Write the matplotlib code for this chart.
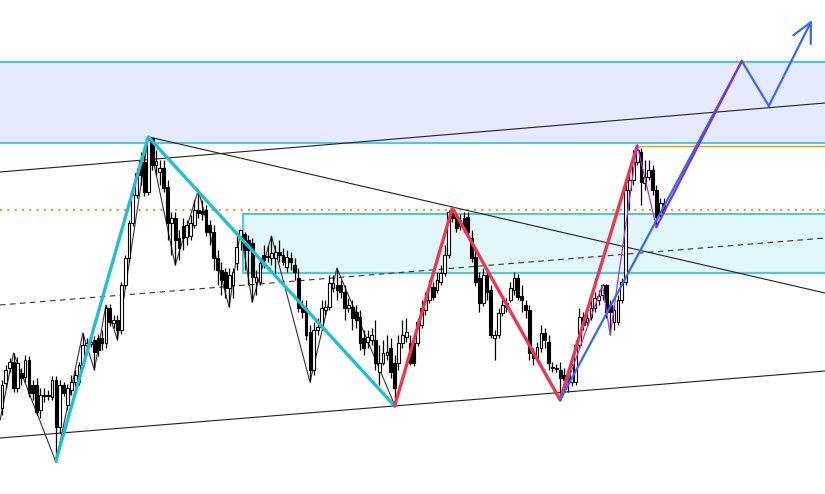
import numpy as np
import matplotlib
matplotlib.use('Agg')
import matplotlib.pyplot as plt

# ---- candles (price in points)
opens = [92, 117, 132, 138, 112, 127, 123, 140, 115, 115,
         90, 105, 104, 103, 120, 73, 115, 95, 110, 118,
         118, 135, 155, 156, 160, 162, 162, 157, 192, 177,
         180, 170, 215, 242, 277, 305, 340, 338, 308, 362,
         335, 328, 332, 313, 277, 282, 262, 274, 263, 264,
         275, 290, 289, 290, 275, 268, 242, 230, 228, 212,
         215, 237, 263, 266, 260, 257, 218, 218, 245, 243,
         242, 242, 248, 245, 233, 242, 235, 222, 193, 192,
         168, 130, 170, 173, 190, 193, 212, 215, 215, 208,
         192, 193, 188, 183, 162, 158, 160, 160, 128, 137,
         145, 152, 137, 137, 157, 163, 157, 157, 157, 175,
         190, 200, 213, 210, 218, 227, 245, 290, 283, 274,
         282, 283, 262, 243, 222, 197, 225, 210, 162, 165,
         187, 197, 200, 210, 222, 204, 195, 190, 147, 142,
         152, 167, 158, 132, 131, 130, 125, 120, 118, 118,
         155, 183, 178, 183, 192, 200, 205, 215, 195, 178,
         178, 200, 218, 310, 320, 338, 348, 317, 323, 330,
         310, 285, 297]
closes = [115, 130, 138, 112, 137, 122, 140, 107, 107, 88,
          105, 104, 104.5, 120, 73, 115, 107, 112, 118, 125,
          135, 155, 157, 158, 148, 150, 157, 192, 178, 180,
          170, 215, 242, 277, 305, 327, 325, 308, 360, 335,
          339, 332, 312, 277, 282, 260, 252, 262, 275, 277,
          290, 287, 286, 268, 268, 242, 230, 220, 212, 225,
          228, 253, 270, 250, 250, 223, 223, 237, 240, 243.5,
          247, 248, 245, 238, 243, 238, 228, 192, 188, 165,
          130, 170, 173, 192, 193, 217, 217, 210, 208, 192,
          195, 182, 180, 157, 152, 163, 165, 137, 137, 147,
          148, 128, 112, 157, 165, 168, 137, 137, 178, 192,
          200, 213, 203, 220, 227, 245, 288, 282, 272, 280,
          273, 268, 242, 218, 197, 225, 208, 165, 165, 187,
          195, 193, 212, 222, 203, 200, 190, 147, 142, 153,
          167, 160, 137, 133, 131.5, 122, 120, 123, 135, 155,
          183, 175, 182, 192, 202, 204, 215, 188, 188, 190,
          200, 218, 310, 320, 338, 350, 318, 323, 330, 310,
          283, 297, 290]
highs = [120, 135, 142, 147, 143, 132, 145, 144, 120, 122,
         112, 112, 110, 124, 124, 120, 118, 116, 125, 130,
         138, 167, 162, 164, 164, 166, 170, 195, 196, 185,
         185, 218, 245, 280, 310, 332, 348, 345, 363, 362,
         350, 340, 340, 320, 288, 288, 270, 282, 280, 285,
         300, 310, 300, 295, 280, 275, 250, 238, 232, 232,
         232, 265, 270, 268, 265, 262, 230, 242, 255, 255,
         264, 255, 260, 252, 250, 248, 242, 232, 200, 200,
         175, 178, 182, 200, 200, 225, 225, 232, 220, 215,
         202, 200, 195, 190, 170, 170, 172, 180, 155, 160,
         165, 162, 145, 165, 180, 182, 165, 160, 182, 200,
         208, 220, 218, 228, 235, 255, 290, 292, 288, 286,
         288, 288, 270, 250, 228, 232, 230, 215, 170, 192,
         200, 202, 218, 228, 226, 215, 200, 195, 152, 158,
         175, 172, 165, 138, 136, 138, 132, 128, 140, 160,
         192, 188, 190, 200, 208, 210, 216, 216, 200, 195,
         205, 222, 320, 328, 350, 355, 352, 340, 340, 335,
         315, 302, 302]
lows = [85, 112, 128, 108, 108, 115, 118, 103, 100, 85,
        82, 98, 100, 100, 38, 67, 104, 90, 105, 114,
        115, 132, 150, 153, 130, 144, 150, 152, 174, 172,
        160, 166, 212, 238, 274, 302, 315, 304, 305, 330,
        325, 315, 308, 260, 245, 235, 240, 250, 255, 260,
        272, 282, 280, 264, 255, 230, 215, 205, 202, 193,
        202, 230, 250, 230, 215, 198, 205, 215, 232, 238,
        235, 225, 238, 235, 228, 230, 220, 188, 182, 160,
        118, 125, 165, 170, 185, 190, 208, 200, 202, 180,
        188, 170, 172, 150, 145, 152, 155, 130, 115, 135,
        140, 122, 95, 130, 152, 158, 135, 134, 154, 172,
        185, 197, 200, 207, 215, 224, 242, 278, 268, 270,
        268, 264, 238, 214, 188, 194, 200, 162, 140, 162,
        184, 188, 198, 205, 200, 188, 182, 140, 135, 138,
        148, 152, 130, 128, 128, 100, 110, 108, 114, 115,
        152, 170, 175, 180, 188, 195, 200, 182, 165, 170,
        175, 197, 215, 290, 315, 335, 295, 310, 320, 305,
        273, 282, 288]

# ---- drawing tools (bar index, price)
zigzag_bar = [-0.5, 3, 14, 21, 24, 27, 30, 38, 45, 51, 59, 62, 65, 70, 80, 87, 102, 117, 145]
zigzag_px = [80, 147, 38, 167, 130, 195, 160, 363, 235, 310, 193, 270, 198, 264, 118, 232, 95, 292, 100]
cyan_bar = [14, 38, 102]
cyan_px = [39, 363, 94]
red_bar = [102, 117, 145, 165]
red_px = [94, 292, 100, 354]
blue_bar = [145, 192.2, 199.2]
blue_px = [100, 439, 394]
blue_tip = (210.4, 480)
purple_thin_bar = [145.5, 156, 158, 165, 170]
purple_thin_px = [103, 215, 165, 355, 273]
purple_bar = [170, 192.2]
purple_px = [273, 439]

upper_zone = (357, 438)
lower_zone = (62.6, 227, 286)
orange_dotted = 290
orange_solid = (165, 354)
channel_top = (328, 397)
channel_bottom = (62, 129)
channel_mid = (195, 262)
falling_line = (38.2, 363, 207)

x0, x1 = -0.52, 213.8

fig = plt.figure(figsize=(8.25, 4.94), dpi=100)
ax = fig.add_axes([0, 0, 1, 1])
ax.set_xlim(x0, x1)
ax.set_ylim(6, 500)
ax.axis('off')

cyan_edge = '#4ccbe0'
# zones
ax.axhspan(upper_zone[0], upper_zone[1], color='#e6eafd', zorder=0, lw=0)
ax.axhline(upper_zone[0], color=cyan_edge, lw=1.5, zorder=1)
ax.axhline(upper_zone[1], color=cyan_edge, lw=1.5, zorder=1)
ax.fill_between([lower_zone[0], x1], lower_zone[1], lower_zone[2], color='#e1f7fa', lw=0, zorder=0)
ax.plot([x1, lower_zone[0], lower_zone[0], x1], [lower_zone[1], lower_zone[1], lower_zone[2], lower_zone[2]],
        color=cyan_edge, lw=1.5, zorder=1)

# horizontal levels
ax.axhline(orange_dotted, color='#ff9800', lw=1.5, ls=(0, (1, 2.5)), zorder=1)
ax.plot([orange_solid[0], x1], [orange_solid[1], orange_solid[1]], color='#ff9800', lw=1.0, zorder=1)

# trend lines
ax.plot([x0, x1], channel_top, color='#222222', lw=0.8, zorder=2)
ax.plot([x0, x1], channel_bottom, color='#222222', lw=0.8, zorder=2)
ax.plot([x0, x1], channel_mid, color='#333333', lw=0.8, ls=(0, (5, 4)), zorder=2)
ax.plot([falling_line[0], x1], falling_line[1:], color='#222222', lw=0.8, zorder=2)

# zigzag
ax.plot(zigzag_bar, zigzag_px, color='#333333', lw=0.8, zorder=2)

# candles
o = np.array(opens, float)
c = np.array(closes, float)
h = np.array(highs, float)
l = np.array(lows, float)
idx = np.arange(len(o))
ax.vlines(idx, l, h, color='black', lw=0.9, zorder=3)
up = c >= o
bottom = np.minimum(o, c)
height = np.maximum(np.abs(c - o), 0.8)
ax.bar(idx[up], height[up], bottom=bottom[up], width=0.72, color='white', edgecolor='black', lw=0.8, zorder=4)
ax.bar(idx[~up], height[~up], bottom=bottom[~up], width=0.72, color='black', edgecolor='black', lw=0.8, zorder=4)

# pattern legs
ax.plot(cyan_bar, cyan_px, color='#1fbfd6', lw=2.4, zorder=5, solid_capstyle='round')
ax.plot(red_bar, red_px, color='#f0364f', lw=2.4, zorder=5, solid_capstyle='round')
ax.plot(purple_thin_bar, purple_thin_px, color='#a03cc8', lw=0.9, zorder=5)
ax.plot(blue_bar, blue_px, color='#2f6bff', lw=1.6, zorder=5)
ax.annotate('', xy=blue_tip, xytext=(blue_bar[-1], blue_px[-1]),
            arrowprops=dict(arrowstyle='->,head_length=0.7,head_width=0.35', color='#2f6bff',
                            lw=1.6, shrinkA=0, shrinkB=0, mutation_scale=20), zorder=5)
ax.plot(purple_bar, purple_px, color='#8e2fbf', lw=1.6, zorder=6)

fig.savefig('out.png', dpi=100)
